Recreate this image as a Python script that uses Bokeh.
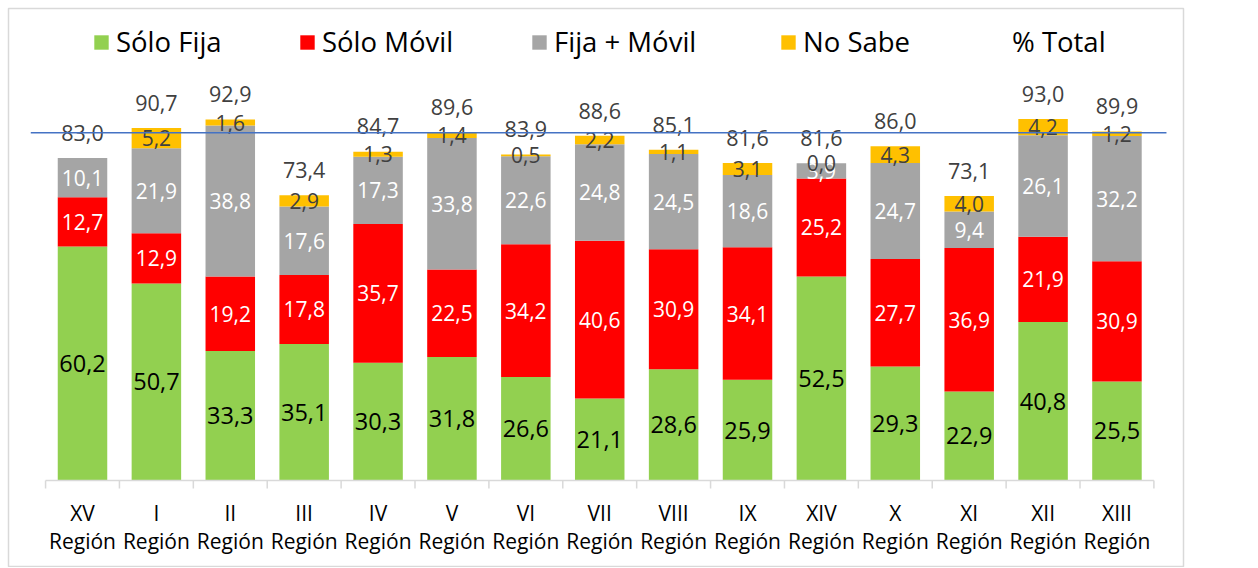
from bokeh.plotting import figure
from bokeh.models import ColumnDataSource, Range1d, Legend, LegendItem, Label
from bokeh.embed import file_html
from bokeh.resources import INLINE
from bokeh.core.properties import value

# ---------------- data ----------------
regiones = ["XV", "I", "II", "III", "IV", "V", "VI", "VII", "VIII", "IX", "XIV", "X", "XI", "XII", "XIII"]
region_word = "Región"
solo_fija = [60.2, 50.7, 33.3, 35.1, 30.3, 31.8, 26.6, 21.1, 28.6, 25.9, 52.5, 29.3, 22.9, 40.8, 25.5]
solo_movil = [12.7, 12.9, 19.2, 17.8, 35.7, 22.5, 34.2, 40.6, 30.9, 34.1, 25.2, 27.7, 36.9, 21.9, 30.9]
fija_movil = [10.1, 21.9, 38.8, 17.6, 17.3, 33.8, 22.6, 24.8, 24.5, 18.6, 3.9, 24.7, 9.4, 26.1, 32.2]
no_sabe = [None, 5.2, 1.6, 2.9, 1.3, 1.4, 0.5, 2.2, 1.1, 3.1, 0.0, 4.3, 4.0, 4.2, 1.2]
pct_total = [83.0, 90.7, 92.9, 73.4, 84.7, 89.6, 83.9, 88.6, 85.1, 81.6, 81.6, 86.0, 73.1, 93.0, 89.9]
promedio = 87.4
series_names = ["Sólo Fija", "Sólo Móvil", "Fija + Móvil", "No Sabe", "% Total"]
colors = ["#92D050", "#FF0000", "#A5A5A5", "#FFC000"]

FONT = "Open Sans"
n = len(regiones)

def fmt(v):
    return f"{v:.1f}".replace(".", ",")

# ---------------- geometry (pixels) ----------------
W, H = 1250, 567
OFF_L, OFF_T = 8, 8
FRAME_W = 1175
FRAME_H = H - OFF_T
PX_X = 73.89
PX_Y = 3.887
PX_Y2 = 3.978
BASE = 472  # baseline distance from top of frame

x_start = -(82 - 8) / PX_X
p = figure(width=W, height=H, output_backend="svg", toolbar_location=None,
           x_range=Range1d(x_start, x_start + FRAME_W / PX_X),
           y_range=Range1d(-(FRAME_H - BASE) / PX_Y, BASE / PX_Y),
           x_axis_location=None, y_axis_location=None, title=None,
           min_border_left=OFF_L, min_border_right=W - OFF_L - FRAME_W,
           min_border_top=OFF_T, min_border_bottom=0)
p.extra_y_ranges = {"linea": Range1d(-(FRAME_H - BASE) / PX_Y2, BASE / PX_Y2)}
p.grid.visible = False
p.outline_line_color = "#D9D9D9"
p.outline_line_width = 1.5
p.background_fill_color = "white"
p.border_fill_color = "white"

xs = list(range(n))
ns0 = [v if v is not None else 0.0 for v in no_sabe]
src = ColumnDataSource(dict(x=xs, fija=solo_fija, movil=solo_movil, ambos=fija_movil, nosabe=ns0))
bars = p.vbar_stack(["fija", "movil", "ambos", "nosabe"], x="x", width=0.67, source=src,
                    color=colors, line_color=None)

# ---------------- segment labels ----------------
series = [solo_fija, solo_movil, fija_movil, no_sabe]
lab_colors = ["#000000", "#FFFFFF", "#FFFFFF", "#404040"]
lab_sizes = ["23.5px", "21px", "21px", "21px"]
bottoms = [0.0] * n
for vals, c, fs in zip(series, lab_colors, lab_sizes):
    lx, ly, lt = [], [], []
    for i, v in enumerate(vals):
        if v is None:
            continue
        lx.append(i)
        ly.append(bottoms[i] + v / 2)
        lt.append(fmt(v))
        bottoms[i] += v
    p.text(x=lx, y=ly, text=lt, text_align="center", text_baseline="middle",
           text_color=c, text_font=value(FONT), text_font_size=fs)

# totals above the stacks
tot_r = p.text(x=xs, y=pct_total, text=[fmt(v) for v in pct_total], text_align="center",
               text_baseline="middle", y_offset=-25, text_color="#404040",
               text_font=value(FONT), text_font_size="21.5px")
tot_line = p.line(x=xs, y=pct_total, line_alpha=0)

# ---------------- average line ----------------
lx0, lx1 = -0.5 - 0.2, n - 0.5 + 0.17
p.line(x=[lx0, lx1], y=[promedio, promedio], y_range_name="linea",
       line_color="#4472C4", line_width=1.5)
p.add_layout(Label(x=lx1, y=promedio, y_range_name="linea", x_offset=17, text=fmt(promedio) + "%",
                   text_baseline="middle", text_color="#404040", text_font=FONT,
                   text_font_size="22px"))

# ---------------- category axis (drawn inside the bordered area) ----------------
p.segment(x0=[-0.5], y0=[0], x1=[n - 0.5], y1=[0], line_color="#D9D9D9", line_width=1.5)
bx = [i - 0.5 for i in range(n + 1)]
p.segment(x0=bx, y0=[0] * (n + 1), x1=bx, y1=[-8 / PX_Y] * (n + 1), line_color="#D9D9D9", line_width=1.5)
p.text(x=xs, y=[0] * n, text=regiones, text_align="center", text_baseline="middle", y_offset=32,
       text_color="#000000", text_font=value(FONT), text_font_size="21px")
p.text(x=xs, y=[0] * n, text=[region_word] * n, text_align="center", text_baseline="middle", y_offset=60,
       text_color="#000000", text_font=value(FONT), text_font_size="21px")

# ---------------- legend ----------------
leg_x = [84, 290, 522, 771, 980]
leg_y = FRAME_H - 52
leg_rends = list(bars) + [tot_line]
for name, r, lxp in zip(series_names, leg_rends, leg_x):
    lg = Legend(items=[LegendItem(label=name, renderers=[r])], location=(lxp, leg_y),
                orientation="horizontal", padding=0, margin=0, border_line_color=None,
                background_fill_alpha=0, glyph_width=18, glyph_height=18, label_standoff=6,
                label_text_font=FONT, label_text_font_size="27.5px", label_text_color="#000000")
    p.add_layout(lg)

open("out.html", "w").write(file_html(p, INLINE))
